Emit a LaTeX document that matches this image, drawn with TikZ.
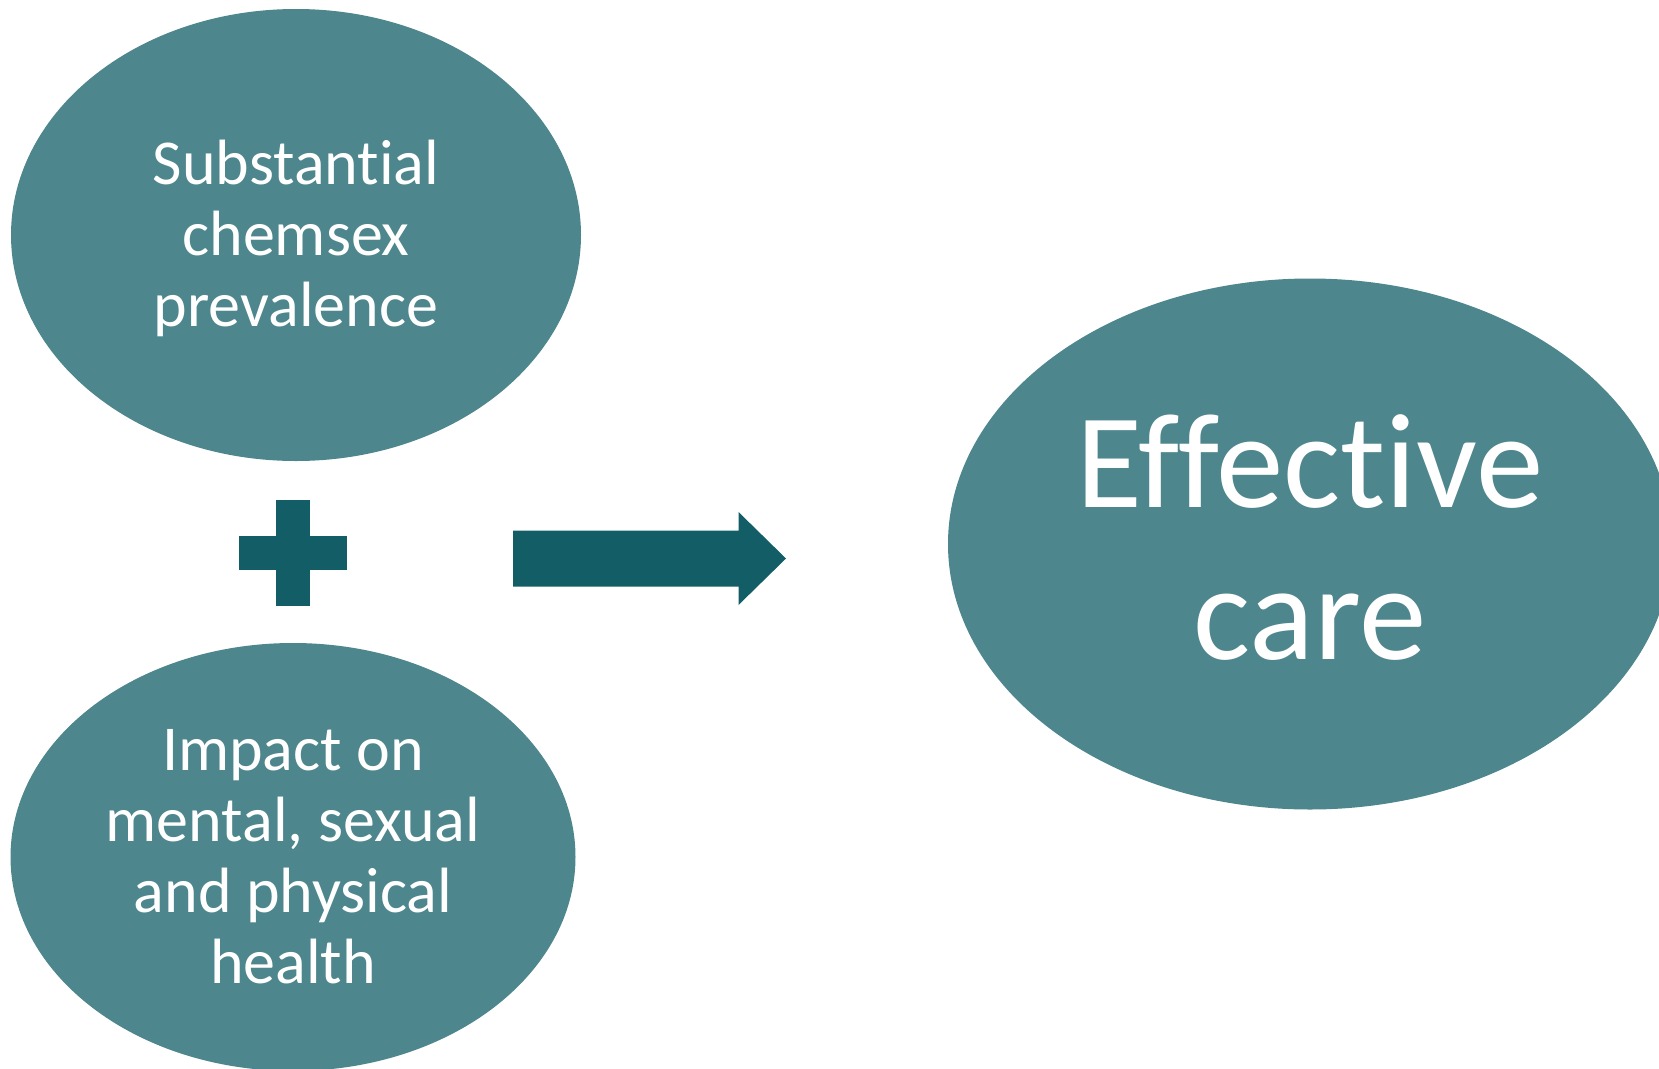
\documentclass[tikz,border=0pt]{standalone}
\usepackage{fontspec}
\setmainfont[Ligatures=NoCommon]{Carlito}
\usetikzlibrary{shapes.geometric}
\definecolor{tealfill}{HTML}{4D868C}
\definecolor{tealdark}{HTML}{135E66}

\begin{document}
\begin{tikzpicture}[
  x=1pt, y=-1pt,
  blob/.style={ellipse, fill=tealfill, inner sep=0pt},
  txt/.style={text=white, align=center, inner sep=0pt},
  small/.style={txt, font=\fontsize{64}{71}\selectfont},
  big/.style={txt, font=\fontsize{135}{152}\selectfont},
  plusbar/.style={fill=tealdark},
]
\useasboundingbox (0,0) rectangle (1659,1068);
\clip (0,0) rectangle (1659,1068);
\node[blob, minimum width=570pt, minimum height=452pt] (prev) at (296, 235) {};
\node[small] (prevtext) at ([yshift=-3pt]prev.center)
  {Substantial\\chemsex\\prevalence};
\node[blob, minimum width=565pt, minimum height=428pt] (impact) at (293, 857) {};
\node[small] (impacttext) at (impact.center)
  {Impact on\\mental, sexual\\and physical\\health};
\node[blob, minimum width=724pt, minimum height=531pt] (care) at (1310, 544) {};
\node[big] (caretext) at ([yshift=6pt]care.center) {Effective\\care};
% plus sign
\coordinate (plus) at (293, 553);
\fill[plusbar] ([xshift=-17pt, yshift=53pt]plus) rectangle ([xshift=17pt, yshift=-53pt]plus);
\fill[plusbar] ([xshift=-54pt, yshift=17pt]plus) rectangle ([xshift=54pt, yshift=-17pt]plus);
% block arrow
\coordinate (tail) at (513, 558);
\fill[tealdark] ([yshift=27.5pt]tail) -- ++(225.5, 0) -- ++(0, -18.5) -- ++(47.5, 46.5)
  -- ++(-47.5, 46.5) -- ++(0, -18.5) -- ++(-225.5, 0) -- cycle;
\end{tikzpicture}
\end{document}
